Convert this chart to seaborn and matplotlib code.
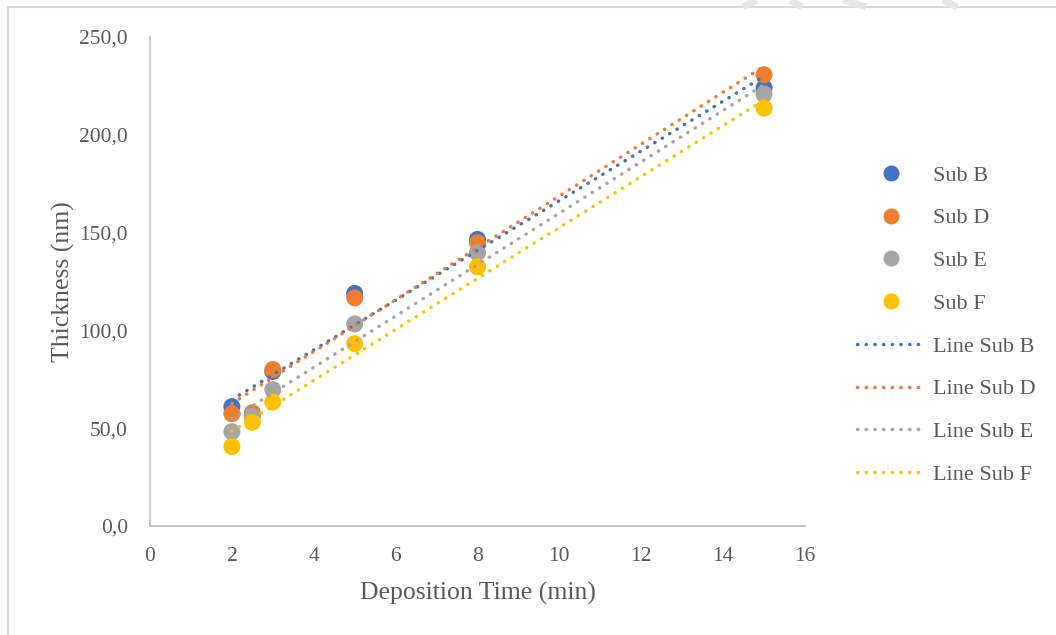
import numpy as np
import pandas as pd
import matplotlib
matplotlib.use("Agg")
import matplotlib.pyplot as plt
from matplotlib.lines import Line2D
import seaborn as sns

# Deposition time (min) and measured film thickness (nm) per substrate
times = [2, 2.5, 3, 5, 8, 15]
sub_b = [61.0, 57.0, 79.0, 118.9, 146.5, 224.0]
sub_d = [57.4, 57.9, 80.0, 116.6, 144.8, 230.7]
sub_e = [48.2, 56.0, 69.7, 103.3, 139.7, 220.8]
sub_f = [40.6, 53.0, 63.4, 93.2, 132.5, 213.6]

series_names = ["Sub B", "Sub D", "Sub E", "Sub F"]
series_values = [sub_b, sub_d, sub_e, sub_f]
colors = ["#4472C4", "#ED7D31", "#A5A5A5", "#FFC000"]

x_ticks = [0, 2, 4, 6, 8, 10, 12, 14, 16]
y_ticks = [0, 50, 100, 150, 200, 250]

df = pd.DataFrame({
    "time": np.tile(times, len(series_names)),
    "thickness": np.concatenate(series_values),
    "series": np.repeat(series_names, len(times)),
})

sns.set_theme(style="white")
plt.rcParams["font.family"] = ["Liberation Serif", "DejaVu Serif"]
text_color = "#595959"

fig = plt.figure(figsize=(10.56, 6.35), dpi=100)
ax = fig.add_axes([150 / 1056, 1 - 526 / 635, 655 / 1056, 489 / 635])

sns.scatterplot(data=df, x="time", y="thickness", hue="series",
                palette=colors, s=150, edgecolor="none", linewidth=0,
                legend=False, ax=ax, zorder=2)

dot_style = dict(linestyle=(0, (0.1, 2.4)), linewidth=2.5,
                 dash_capstyle="round")
for name, vals, c in zip(series_names, series_values, colors):
    sns.regplot(x=np.array(times), y=np.array(vals), scatter=False, ci=None,
                truncate=True, color=c, ax=ax,
                line_kws=dict(zorder=3, **dot_style))

ax.set_xlim(0, 16)
ax.set_ylim(0, 250)
ax.set_xticks(x_ticks)
ax.set_yticks(y_ticks)
ax.set_xticklabels([str(t) for t in x_ticks])
ax.set_yticklabels([f"{t:.1f}".replace(".", ",") for t in y_ticks])
ax.tick_params(axis="both", length=0, labelsize=15.5, colors=text_color)
ax.tick_params(axis="x", pad=15)
ax.tick_params(axis="y", pad=16)

for side in ["top", "right"]:
    ax.spines[side].set_visible(False)
for side in ["left", "bottom"]:
    ax.spines[side].set_color("#BFBFBF")
    ax.spines[side].set_linewidth(1.2)

ax.set_xlabel("Deposition Time (min)", fontsize=18.5, color=text_color)
ax.set_ylabel("Thickness (nm)", fontsize=18.5, color=text_color)
ax.xaxis.set_label_coords(0.5, -0.115)
ax.yaxis.set_label_coords(-0.114, 0.5)

# Legend: markers for the measurements, dotted lines for the linear fits
handles = [Line2D([], [], linestyle="none", marker="o", markersize=11.5,
                  markerfacecolor=c, markeredgecolor="none")
           for c in colors]
handles += [Line2D([], [], color=c, **dot_style) for c in colors]
labels = series_names + ["Line " + n for n in series_names]
fig.legend(handles, labels, loc="upper left",
           bbox_to_anchor=(837 / 1056, 1 - 145 / 635),
           frameon=False, fontsize=16, labelcolor=text_color,
           handlelength=3.1, handletextpad=0.3, labelspacing=1.0)

# Chart area frame
fig.add_artist(plt.Line2D([8 / 1056, 8 / 1056], [0, 1 - 7 / 635],
                          transform=fig.transFigure, color="#D9D9D9",
                          linewidth=1.5))
fig.add_artist(plt.Line2D([8 / 1056, 1], [1 - 7 / 635, 1 - 7 / 635],
                          transform=fig.transFigure, color="#D9D9D9",
                          linewidth=1.5))

# Faint background strokes above the frame
strokes = [((743, 7), (757, 0)), ((790, 0), (802, 7)),
           ((843, 0), (866, 7)), ((943, 0), (957, 7))]
for (x0, y0), (x1, y1) in strokes:
    fig.add_artist(plt.Line2D([x0 / 1056, x1 / 1056],
                              [1 - y0 / 635, 1 - y1 / 635],
                              transform=fig.transFigure, color="#E6E6E6",
                              linewidth=5, solid_capstyle="butt"))

fig.savefig("out.png", dpi=100)
